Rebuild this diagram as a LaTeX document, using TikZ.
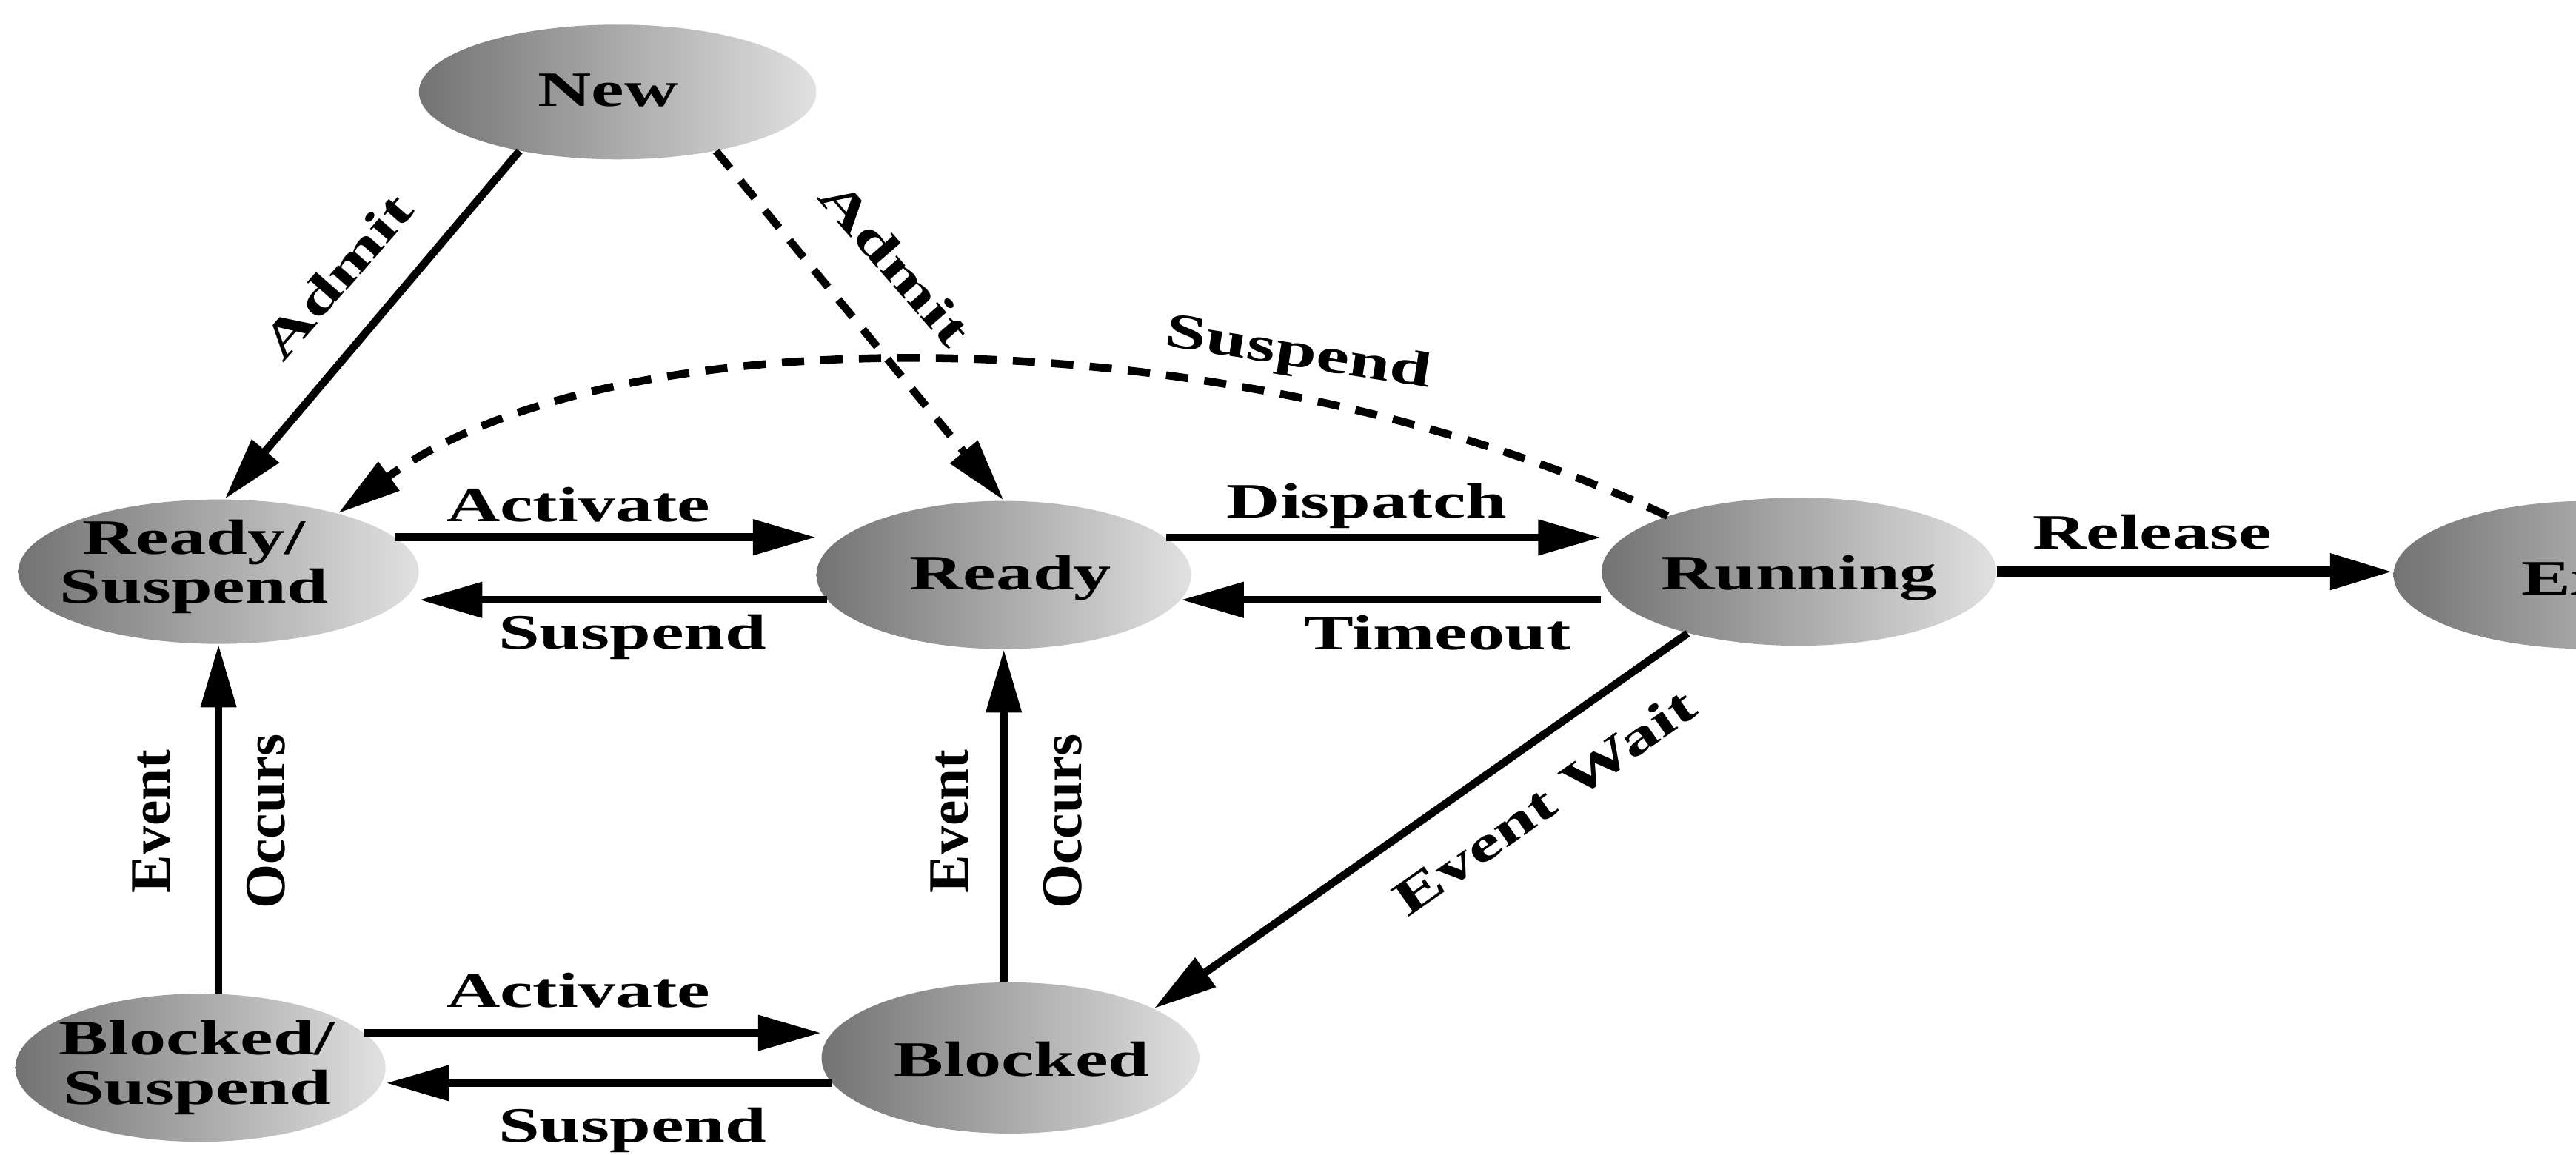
\documentclass[tikz,border=0pt]{standalone}
\usepackage{fontspec}
\setmainfont{Liberation Serif}
\usetikzlibrary{arrows.meta,shapes.geometric}
\newcommand{\wdt}[1]{\scalebox{1.5}[1]{#1}}
\tikzset{
  st/.style={ellipse, inner sep=0pt, draw=none, left color=black!55, right color=black!12},
  tx/.style={inner sep=0pt, font=\fontsize{19}{19}\selectfont\bfseries, align=center},
  rtx/.style={inner sep=0pt, font=\fontsize{22}{22}\selectfont\bfseries, rotate=90},
  arr/.style={line width=3pt, -{Triangle[length=0.85cm,width=0.46cm]}},
  dsh/.style={arr, dash pattern=on 0.3cm off 0.22cm},
}
\begin{document}
\begin{tikzpicture}[x=0.022188cm,y=-0.022188cm]
\useasboundingbox (0,0) rectangle (1568,703);
\clip (0,0) rectangle (1568,703);
% states
\node[st, minimum width=5.37cm, minimum height=1.82cm] (new) at (376,56) {};
\node[st, minimum width=5.41cm, minimum height=1.95cm] (rs) at (133,348) {};
\node[st, minimum width=5.06cm, minimum height=2.0cm] (ready) at (611,350) {};
\node[st, minimum width=5.33cm, minimum height=2.0cm] (run) at (1095,348) {};
\node[st, minimum width=5.33cm, minimum height=2.0cm] (exit) at (1577,350) {};
\node[st, minimum width=5.0cm, minimum height=2.0cm] (bs) at (122,650) {};
\node[st, minimum width=5.1cm, minimum height=2.04cm] (blk) at (615,644) {};
% state texts
\node[tx] (newT) at (370,55) {\wdt{New}};
\node[tx] (rsT) at (118,345) {\wdt{Ready/}\\\wdt{Suspend}};
\node[tx] (readyT) at (615,352) {\wdt{Ready}};
\node[tx] (runT) at (1095,352) {\wdt{Running}};
\node[tx] (exitT) at (1575,352) {\wdt{Exit}};
\node[tx] (bsT) at (120,650) {\wdt{Blocked/}\\\wdt{Suspend}};
\node[tx] (blkT) at (622,645) {\wdt{Blocked}};
% connectors
\draw[arr] (new.211) -- (rs.85);
\draw[dsh] (new.-31) -- (ready.north);
\draw[dsh] (run.157) .. controls (748,190) and (373,190) .. (rs.26);
\draw[arr] (rs.11) -- (rs.11 -| ready.west);
\draw[arr] (ready.188) -- (ready.188 -| rs.east);
\draw[arr] (ready.13) -- (ready.13 -| run.west);
\draw[arr] (ready.-8 -| run.west) -- (ready.-8);
\draw[arr, line width=4pt] (run.east) -- (run.east -| exit.west);
\draw[arr] (run.209) -- (blk.19);
\draw[arr] (rs.south |- bs.north) -- (rs.south);
\draw[arr] (ready.south |- blk.north) -- (ready.south);
\draw[arr] (bs.12.5) -- (bs.12.5 -| blk.west);
\draw[arr] (blk.188) -- (blk.188 -| bs.east);
% labels
\node[tx, rotate=48.7] (lAdmit1) at (205,168) {\wdt{Admit}};
\node[tx, rotate=-49] (lAdmit2) at (545,160) {\wdt{Admit}};
\node[tx, rotate=-9] (lSusp0) at (790,216) {\wdt{Suspend}};
\node[tx] (lAct1) at (352,307) {\wdt{Activate}};
\node[tx] (lSusp1) at (385,388) {\wdt{Suspend}};
\node[tx] (lDisp) at (832,308) {\wdt{Dispatch}};
\node[tx] (lTime) at (875,385) {\wdt{Timeout}};
\node[tx] (lRel) at (1310,324) {\wdt{Release}};
\node[tx, rotate=35] (lWait) at (940,488) {\wdt{Event Wait}};
\node[rtx] (lEv1) at (92,500) {Event};
\node[rtx] (lOc1) at (162,500) {Occurs};
\node[rtx] (lEv2) at (578,500) {Event};
\node[rtx] (lOc2) at (647,500) {Occurs};
\node[tx] (lAct2) at (352,603) {\wdt{Activate}};
\node[tx] (lSusp2) at (385,688) {\wdt{Suspend}};
\end{tikzpicture}
\end{document}
